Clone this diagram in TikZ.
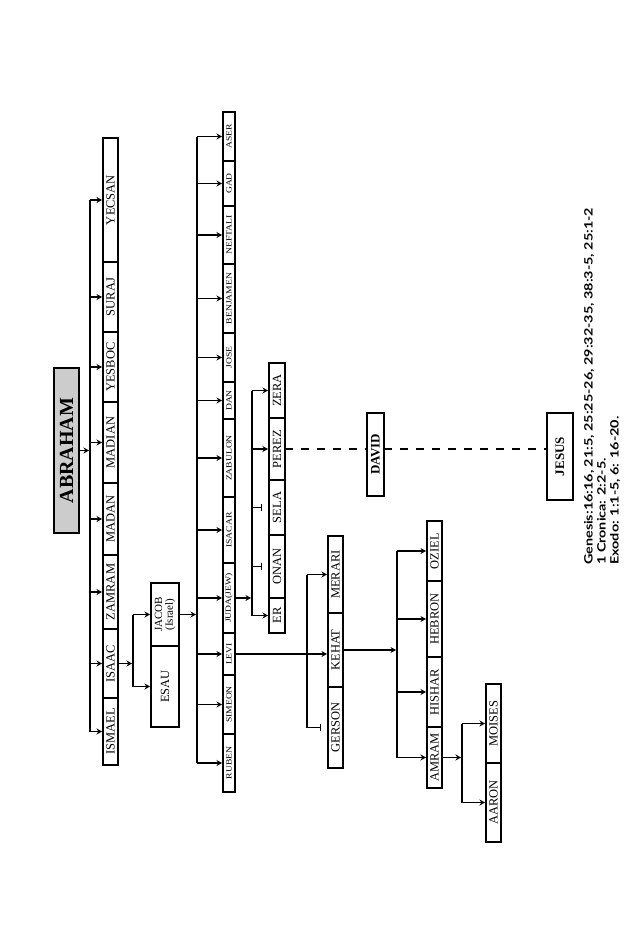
\documentclass[tikz,border=0pt]{standalone}
\usepackage{fontspec}
\setmainfont{Liberation Serif}
\newfontfamily\refsans{Lato}
\usetikzlibrary{arrows.meta}
\newcommand\famBox[7]{\node[#1, minimum width={(#4-#3)*1pt}, minimum height={(#6-#5)*1pt}] (#2) at ({(#3+#4)/2},{(#5+#6)/2}) {\rotatebox{90}{#7}};}
\newcommand\stretchtxt[1]{\scalebox{1.2}[1]{#1}}
\newcommand\wideline[1]{\scalebox{1.25}[1]{#1}}
\begin{document}
\begin{tikzpicture}[x=1pt,y=-1pt,
  seg/.style={draw, line width=1.2pt, inner sep=0pt, outer sep=0pt, font=\fontsize{12.5}{13}\selectfont},
  smallseg/.style={seg, font=\fontsize{8}{8}\selectfont},
  boldseg/.style={seg, line width=1.4pt, font=\bfseries\fontsize{13}{13}\selectfont},
  conn/.style={line width=1.1pt},
  arr/.style={conn, -{Stealth[length=5.5pt,width=6pt]}, shorten >=1pt},
  barend/.style={conn, -{Bar[width=7pt]}, shorten >=7pt},
  dashline/.style={line width=1.3pt, dash pattern=on 8pt off 8pt}]
\useasboundingbox (0,0) rectangle (638,950);

% Abraham
\node[draw, line width=2.2pt, fill=gray!40, inner sep=0pt, minimum width=25pt, minimum height=165pt,
      font=\bfseries\fontsize{20}{20}\selectfont] (abraham) at (66.5,450.5) {\rotatebox{90}{ABRAHAM}};

% sons of Abraham
\famBox{seg}{yecsan}{103}{118}{138}{262}{YECSAN}
\famBox{seg}{suraj}{103}{118}{262}{332}{SURAJ}
\famBox{seg}{yesboc}{103}{118}{332}{402}{YESBOC}
\famBox{seg}{madian}{103}{118}{402}{483}{MADIAN}
\famBox{seg}{madan}{103}{118}{483}{555}{MADAN}
\famBox{seg}{zamram}{103}{118}{555}{629}{ZAMRAM}
\famBox{seg}{isaac}{103}{118}{629}{698}{ISAAC}
\famBox{seg}{ismael}{103}{118}{698}{765}{ISMAEL}

% sons of Isaac
\famBox{seg, font=\fontsize{11}{11.5}\selectfont}{jacob}{151}{179}{583}{646}{\shortstack{JACOB\\(Israel)}}
\famBox{seg}{esau}{151}{179}{646}{727}{ESAU}

% sons of Jacob
\famBox{smallseg}{aser}{223}{235}{112}{161}{\stretchtxt{ASER}}
\famBox{smallseg}{gad}{223}{235}{161}{206}{\stretchtxt{GAD}}
\famBox{smallseg}{neftali}{223}{235}{206}{264}{\stretchtxt{NEFTALI}}
\famBox{smallseg}{benjamen}{223}{235}{264}{333}{\stretchtxt{BENJAMEN}}
\famBox{smallseg}{jose}{223}{235}{333}{382}{\stretchtxt{JOSE}}
\famBox{smallseg}{dan}{223}{235}{382}{419}{\stretchtxt{DAN}}
\famBox{smallseg}{zabulon}{223}{235}{419}{497}{\stretchtxt{ZABULON}}
\famBox{smallseg}{isacar}{223}{235}{497}{563}{\stretchtxt{ISACAR}}
\famBox{smallseg}{juda}{223}{235}{563}{633}{\stretchtxt{JUDA(JEW)}}
\famBox{smallseg}{levi}{223}{235}{633}{675}{\stretchtxt{LEVI}}
\famBox{smallseg}{simeon}{223}{235}{675}{734}{\stretchtxt{SIMEON}}
\famBox{smallseg}{ruben}{223}{235}{734}{792}{\stretchtxt{RUBEN}}

% sons of Juda
\famBox{seg}{zera}{269}{285}{363}{418}{ZERA}
\famBox{seg}{perez}{269}{285}{418}{480}{PEREZ}
\famBox{seg}{sela}{269}{285}{480}{535}{SELA}
\famBox{seg}{onan}{269}{285}{535}{598}{ONAN}
\famBox{seg}{er}{269}{285}{598}{633}{ER}

% sons of Levi
\famBox{seg}{merari}{328}{343}{536}{613}{MERARI}
\famBox{seg}{kehat}{328}{343}{613}{687}{KEHAT}
\famBox{seg}{gerson}{328}{343}{687}{768}{GERSON}

% sons of Kehat
\famBox{seg}{oziel}{427}{442}{521}{581}{OZIEL}
\famBox{seg}{hebron}{427}{442}{581}{657}{HEBRON}
\famBox{seg}{hishar}{427}{442}{657}{727}{HISHAR}
\famBox{seg}{amram}{427}{442}{727}{788}{AMRAM}

% sons of Amram
\famBox{seg}{moises}{486}{501}{684}{763}{MOISES}
\famBox{seg}{aaron}{486}{501}{763}{842}{AARON}

% David and Jesus
\famBox{boldseg}{david}{367}{384}{413}{496}{DAVID}
\famBox{boldseg}{jesus}{547}{573}{413}{500}{JESUS}

% bus coordinates
\coordinate (busA) at (90,0);
\coordinate (busI) at (133,0);
\coordinate (busJ) at (197,0);
\coordinate (busU) at (252,0);
\coordinate (busL) at (307,0);
\coordinate (busK) at (397,0);
\coordinate (busM) at (462,0);

% Abraham -> sons
\draw[arr] (abraham.east) -- (abraham.east -| busA);
\draw[conn] (yecsan.west -| busA) -- (ismael.west -| busA);
\foreach \c in {yecsan,suraj,yesboc,madian,madan,zamram,isaac,ismael}
  \draw[arr] (\c.west -| busA) -- (\c.west);

% Isaac -> sons
\draw[arr] (isaac.east) -- (isaac.east -| busI);
\draw[conn] (jacob.west -| busI) -- (esau.west -| busI);
\foreach \c in {jacob,esau}
  \draw[arr] (\c.west -| busI) -- (\c.west);

% Jacob -> sons
\draw[arr] (jacob.east) -- (jacob.east -| busJ);
\draw[conn] (aser.west -| busJ) -- (ruben.west -| busJ);
\foreach \c in {aser,gad,neftali,benjamen,jose,dan,zabulon,isacar,juda,levi,simeon,ruben}
  \draw[arr] (\c.west -| busJ) -- (\c.west);

% Juda -> sons
\draw[arr] (juda.east) -- (juda.east -| busU);
\draw[conn] (zera.west -| busU) -- (er.west -| busU);
\foreach \c in {zera,perez,er}
  \draw[arr] (\c.west -| busU) -- (\c.west);
\foreach \c in {sela,onan}
  \draw[barend] (\c.west -| busU) -- (\c.west);

% Levi -> sons
\draw[arr] (levi.east) -- (levi.east -| kehat.west);
\draw[conn] (merari.west -| busL) -- (gerson.west -| busL);
\draw[arr] (merari.west -| busL) -- (merari.west);
\draw[barend] (gerson.west -| busL) -- (gerson.west);

% Kehat -> sons
\draw[arr] (kehat.east) -- (kehat.east -| busK);
\draw[conn] (oziel.west -| busK) -- (amram.west -| busK);
\foreach \c in {oziel,hebron,hishar,amram}
  \draw[arr] (\c.west -| busK) -- (\c.west);

% Amram -> sons
\draw[arr] (amram.east) -- (amram.east -| busM);
\draw[conn] (moises.west -| busM) -- (aaron.west -| busM);
\foreach \c in {moises,aaron}
  \draw[arr] (\c.west -| busM) -- (\c.west);

% Perez - David - Jesus
\draw[dashline] (perez.east) -- (perez.east -| david.west);
\draw[dashline] (perez.east -| david.east) -- (perez.east -| jesus.west);

% references
\node[rotate=90, anchor=north west, inner sep=0pt, align=left,
      font=\refsans\bfseries\fontsize{11.5}{13}\selectfont] (refs) at (584,565)
  {\wideline{Genesis:16:16, 21:5, 25:25-26, 29:32-35, 38:3-5, 25:1-2}\\
   \wideline{1 Cronica: 2:2-5.}\\
   \wideline{Exodo: 1:1-5, 6: 16-20.}};
\end{tikzpicture}
\end{document}
